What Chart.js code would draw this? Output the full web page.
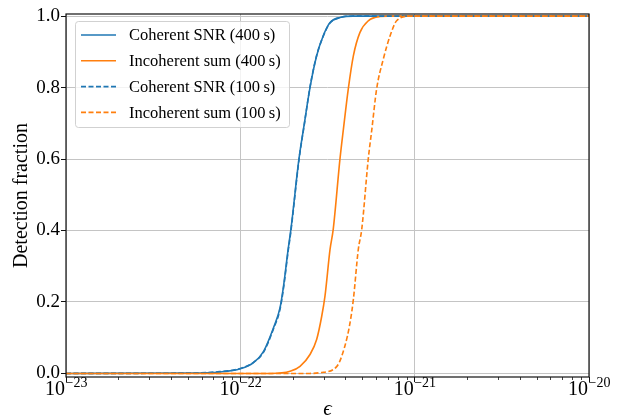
<!DOCTYPE html>
<html>
<head>
<meta charset="utf-8">
<script src="https://cdn.jsdelivr.net/npm/chart.js@4.4.1/dist/chart.umd.min.js"></script>
<style>
  html, body { margin: 0; padding: 0; background: #fff; }
  #wrap { width: 621px; height: 420px; }
</style>
</head>
<body>
<div id="wrap"><canvas id="chart" width="621" height="420"></canvas></div>
<script>
// tick values / labels
const xMajor = [1e-23, 1e-22, 1e-21, 1e-20];
const xExp = ['\u221223', '\u221222', '\u221221', '\u221220'];
const yTicks = [0, 0.2, 0.4, 0.6, 0.8, 1.0];

const labels = [
  'Coherent SNR (400\u2009s)',
  'Incoherent sum (400\u2009s)',
  'Coherent SNR (100\u2009s)',
  'Incoherent sum (100\u2009s)'
];

// Coherent SNR, 400 s
const epsCoh400 = [1e-23, 5e-23, 7.6e-23, 1.0e-22, 1.19e-22, 1.36e-22, 1.55e-22, 1.69e-22, 1.77e-22, 1.88e-22, 1.95e-22, 2.17e-22, 2.33e-22, 2.51e-22, 2.74e-22, 2.99e-22, 3.27e-22, 3.73e-22, 4.43e-22, 1e-20];
const fracCoh400 = [0, 0.001, 0.004, 0.013, 0.030, 0.062, 0.128, 0.184, 0.245, 0.347, 0.403, 0.601, 0.700, 0.800, 0.889, 0.945, 0.982, 0.996, 1.0, 1.0];

// Incoherent sum, 400 s
const epsInc400 = [1e-23, 1.5e-22, 1.93e-22, 2.2e-22, 2.51e-22, 2.74e-22, 2.93e-22, 3.06e-22, 3.27e-22, 3.41e-22, 3.73e-22, 3.90e-22, 4.16e-22, 4.45e-22, 4.85e-22, 5.42e-22, 6.32e-22, 7.0e-22, 1e-20];
const fracInc400 = [0, 0.0, 0.006, 0.020, 0.053, 0.095, 0.160, 0.217, 0.347, 0.403, 0.601, 0.683, 0.796, 0.889, 0.954, 0.987, 0.999, 1.0, 1.0];

// Coherent SNR, 100 s
const epsCoh100 = [1e-23, 5e-23, 7.6e-23, 1.0e-22, 1.19e-22, 1.36e-22, 1.55e-22, 1.69e-22, 1.77e-22, 1.88e-22, 1.95e-22, 2.17e-22, 2.33e-22, 2.51e-22, 2.74e-22, 2.99e-22, 3.27e-22, 3.73e-22, 4.43e-22, 1e-20];
const fracCoh100 = [0, 0.001, 0.005, 0.014, 0.031, 0.060, 0.125, 0.180, 0.240, 0.342, 0.398, 0.598, 0.698, 0.802, 0.890, 0.944, 0.981, 0.996, 1.0, 1.0];

// Incoherent sum, 100 s
const epsInc100 = [1e-23, 2.5e-22, 2.86e-22, 3.57e-22, 3.98e-22, 4.26e-22, 4.45e-22, 4.75e-22, 4.97e-22, 5.42e-22, 5.68e-22, 6.05e-22, 6.61e-22, 7.23e-22, 7.88e-22, 9.4e-22, 1e-20];
const fracInc100 = [0, 0.0, 0.002, 0.019, 0.077, 0.142, 0.207, 0.347, 0.403, 0.601, 0.683, 0.796, 0.880, 0.945, 0.987, 1.0, 1.0];

const BLUE = '#1f77b4';
const ORANGE = '#ff7f0e';
const SERIF = '"Liberation Serif", "DejaVu Serif", serif';

const pts = (xs, ys) => xs.map((x, i) => ({ x: x, y: ys[i] }));

function makeSet(i, xs, ys, color, dashed) {
  return {
    label: labels[i],
    data: pts(xs, ys),
    borderColor: color,
    backgroundColor: color,
    borderWidth: 1.6,
    borderDash: dashed ? [5, 2.5] : [],
    pointRadius: 0,
    cubicInterpolationMode: 'monotone',
    fill: false,
    order: 3 - i   // later series on top, like the original
  };
}

// legend box, drawn inside the axes, upper left
const legendBox = {
  id: 'legendBox',
  afterDatasetsDraw(chart) {
    const ctx = chart.ctx;
    const x0 = 75, y0 = 21, w = 214, h = 106, r = 3;
    ctx.save();
    ctx.beginPath();
    ctx.roundRect(x0 + 0.5, y0 + 0.5, w, h, r);
    ctx.fillStyle = 'rgba(255,255,255,0.8)';
    ctx.fill();
    ctx.strokeStyle = 'rgba(204,204,204,0.9)';
    ctx.lineWidth = 1;
    ctx.stroke();

    chart.data.datasets.forEach((ds, i) => {
      const y = 35 + i * 25.8;
      ctx.beginPath();
      ctx.setLineDash(ds.borderDash);
      ctx.strokeStyle = ds.borderColor;
      ctx.lineWidth = ds.borderWidth;
      ctx.moveTo(81, y);
      ctx.lineTo(116, y);
      ctx.stroke();
      ctx.setLineDash([]);
      ctx.fillStyle = '#000';
      ctx.font = '16.5px ' + SERIF;
      ctx.textBaseline = 'middle';
      ctx.textAlign = 'left';
      ctx.fillText(ds.label, 129, y + 1);
    });
    ctx.restore();
  }
};

// spines, minor ticks and 10^n tick labels
const axesExtras = {
  id: 'axesExtras',
  afterDraw(chart) {
    const ctx = chart.ctx;
    const a = chart.chartArea;
    const xs = chart.scales.x;
    ctx.save();
    ctx.strokeStyle = '#111';
    ctx.lineWidth = 1.2;
    ctx.strokeRect(a.left, a.top, a.right - a.left, a.bottom - a.top);

    // minor ticks
    ctx.lineWidth = 0.8;
    ctx.beginPath();
    for (let d = -23; d < -20; d++) {
      for (let m = 2; m <= 9; m++) {
        const px = Math.round(xs.getPixelForValue(m * Math.pow(10, d))) + 0.5;
        ctx.moveTo(px, a.bottom);
        ctx.lineTo(px, a.bottom + 3);
      }
    }
    ctx.stroke();

    // major tick labels
    ctx.fillStyle = '#000';
    ctx.textBaseline = 'alphabetic';
    xMajor.forEach((v, i) => {
      const px = xs.getPixelForValue(v);
      ctx.font = '20px ' + SERIF;
      const wb = ctx.measureText('10').width;
      ctx.font = '14px ' + SERIF;
      const we = ctx.measureText(xExp[i]).width;
      const left = px - (wb + we) / 2;
      ctx.font = '20px ' + SERIF;
      ctx.textAlign = 'left';
      ctx.fillText('10', left, a.bottom + 18);
      ctx.font = '14px ' + SERIF;
      ctx.fillText(xExp[i], left + wb + 0.5, a.bottom + 10);
    });
    ctx.restore();
  }
};

new Chart(document.getElementById('chart'), {
  type: 'line',
  data: {
    datasets: [
      makeSet(0, epsCoh400, fracCoh400, BLUE, false),
      makeSet(1, epsInc400, fracInc400, ORANGE, false),
      makeSet(2, epsCoh100, fracCoh100, BLUE, true),
      makeSet(3, epsInc100, fracInc100, ORANGE, true)
    ]
  },
  options: {
    responsive: false,
    animation: false,
    devicePixelRatio: 1,
    layout: { padding: { top: 14, right: 32, left: 0, bottom: 0 } },
    plugins: {
      legend: { display: false },
      tooltip: { enabled: false }
    },
    scales: {
      x: {
        type: 'logarithmic',
        min: 1e-23,
        max: 1e-20,
        afterBuildTicks: (scale) => { scale.ticks = xMajor.map(v => ({ value: v, major: true })); },
        afterFit: (scale) => { scale.height = 43; },
        ticks: { display: false },
        grid: { color: '#c4c4c4', lineWidth: 1, drawTicks: true, tickLength: 5, tickColor: '#111' },
        border: { display: false },
        title: {
          display: true,
          text: '\u03f5',
          color: '#000',
          font: { family: SERIF, size: 21, style: 'italic', lineHeight: 1.0 },
          padding: { top: 0, bottom: 0 }
        }
      },
      y: {
        min: -0.01,
        max: 1.006,
        afterBuildTicks: (scale) => { scale.ticks = yTicks.map(v => ({ value: v })); },
        afterFit: (scale) => { scale.width = 66; },
        ticks: {
          color: '#000',
          padding: 1,
          font: { family: SERIF, size: 19 },
          callback: (v) => Number(v).toFixed(1)
        },
        grid: { color: '#c4c4c4', lineWidth: 1, drawTicks: true, tickLength: 5, tickColor: '#111' },
        border: { display: false },
        title: {
          display: true,
          text: 'Detection fraction',
          color: '#000',
          font: { family: SERIF, size: 20, lineHeight: 1.2 },
          padding: { top: 10, bottom: 0 }
        }
      }
    }
  },
  plugins: [legendBox, axesExtras]
});
</script>
</body>
</html>
